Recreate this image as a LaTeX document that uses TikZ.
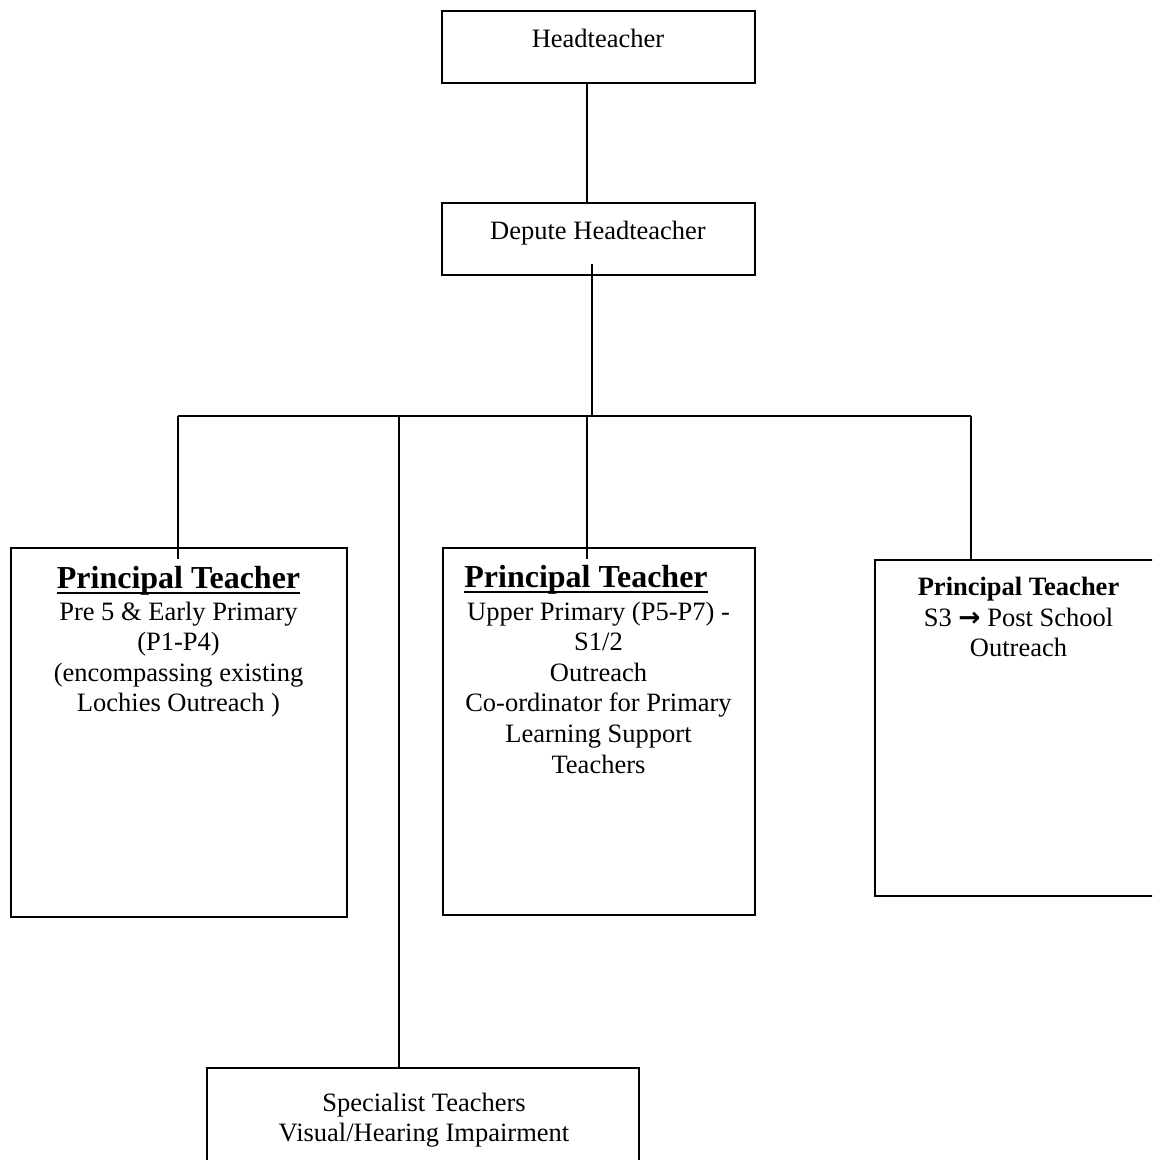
\documentclass[tikz,border=0pt]{standalone}
\usepackage{fontspec}
\setmainfont{Liberation Serif}
\newfontfamily\arrowfont{DejaVu Sans}
\newcommand{\bodyfont}{\fontsize{26.5}{30.6}\selectfont}
\begin{document}
\begin{tikzpicture}[x=1pt,y=-1pt]
\tikzset{
  orgbox/.style={draw=black, line width=1.6pt, inner sep=0pt},
  txt/.style={anchor=base, inner sep=0pt, font=\bodyfont},
  headtxt/.style={anchor=base, inner sep=0pt, font=\fontsize{32}{36}\selectfont\bfseries},
  smallhead/.style={anchor=base, inner sep=0pt, font=\fontsize{26.5}{30.6}\selectfont\bfseries},
  link/.style={draw=black, line width=1.6pt},
  uline/.style={draw=black, line width=2.4pt},
}
\useasboundingbox (0,0) rectangle (1152,1160);
\clip (0,0) rectangle (1152,1160);

% boxes
\node[orgbox, minimum width=313pt, minimum height=72pt] (head) at (598.5,47) {};
\node[orgbox, minimum width=313pt, minimum height=72pt] (dep) at (598.5,239) {};
\node[orgbox, minimum width=336pt, minimum height=369pt] (left) at (179,732.5) {};
\node[orgbox, minimum width=312pt, minimum height=367pt] (mid) at (599,731.5) {};
\node[orgbox, minimum width=287pt, minimum height=336pt] (right) at (1018.5,728) {};
\node[orgbox, minimum width=432pt, minimum height=112pt] (bottom) at (423,1124) {};

% texts
\node[txt] (headT) at (598,47) {Headteacher};
\node[txt] (depT) at (598,239) {Depute Headteacher};

\node[headtxt] (leftH) at (178.5,588) {Principal Teacher};
\node[txt] (leftB) at (178.5,620) {\begin{tabular}[t]{@{}c@{}}Pre 5 \& Early Primary\\(P1-P4)\\(encompassing existing\\Lochies Outreach )\end{tabular}};

\node[headtxt] (midH) at (586,587) {Principal Teacher};
\node[txt] (midB) at (598.5,620) {\begin{tabular}[t]{@{}c@{}}Upper Primary (P5-P7) -\\S1/2\\Outreach\\Co-ordinator for Primary\\Learning Support\\Teachers\end{tabular}};

\node[smallhead] (rightH) at (1018.5,595) {Principal Teacher};
\node[txt] (rightB) at (1018.5,626) {\begin{tabular}[t]{@{}c@{}}S3 {\arrowfont\bfseries →} Post School\\Outreach\end{tabular}};

\node[txt] (botB) at (424,1111) {\begin{tabular}[t]{@{}c@{}}Specialist Teachers\\Visual/Hearing Impairment\end{tabular}};

% underlines
\draw[uline] ([yshift=-5pt]leftH.base west) -- ([yshift=-5pt]leftH.base east);
\draw[uline] ([yshift=-5pt]midH.base west) -- ([yshift=-5pt]midH.base east);

% connectors
\coordinate (bus) at (592,416);
\coordinate (busL) at (178,416);
\coordinate (busS) at (399,416);
\coordinate (busM) at (587,416);
\coordinate (busR) at (971,416);

\draw[link] ([xshift=-11.5pt]head.south) -- ([xshift=-11.5pt]dep.north);
\draw[link] ([xshift=-6.5pt,yshift=12pt]dep.south) -- (bus);
\draw[link] (busL) -- (busR);
\draw[link] (busL) -- ([yshift=-12pt]busL |- left.north);
\draw[link] (busS) -- (busS |- bottom.north);
\draw[link] (busM) -- ([yshift=-12pt]busM |- mid.north);
\draw[link] (busR) -- (busR |- right.north);
\end{tikzpicture}
\end{document}
